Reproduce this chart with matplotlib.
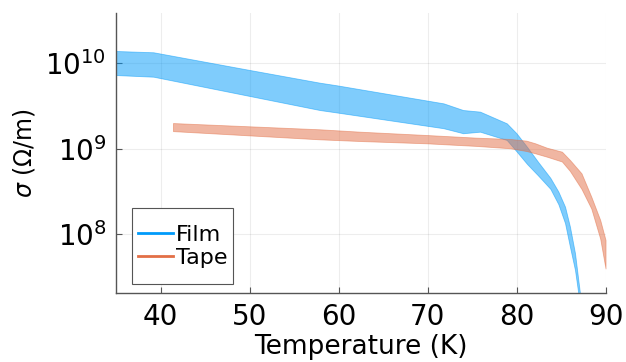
import matplotlib
matplotlib.use("Agg")
import matplotlib.pyplot as plt
from matplotlib.lines import Line2D
from matplotlib.patches import Rectangle

# Film band (temperature in K, sigma in Ohm/m)
film_T = [35, 39.2, 50, 57.9, 59.8, 71.8, 74.0, 75.9, 78.9, 80.0, 81.2, 82.4, 83.8,
          84.7, 85.45, 86.0, 86.57, 86.94, 87.13, 87.4]
film_upper = [1.393e10, 1.346e10, 8.36e9, 5.93e9, 5.53e9, 3.40e9, 2.84e9, 2.72e9, 1.987e9, 1.517e9,
              1.047e9, 7.08e8, 4.57e8, 3.16e8, 2.10e8, 1.23e8, 6.00e7, 2.92e7, 2.04e7, 7.9e6]
film_lower = [7.29e9, 6.97e9, 4.15e9, 2.84e9, 2.66e9, 1.74e9, 1.52e9, 1.585e9, 1.268e9, 9.33e8,
              6.61e8, 4.90e8, 3.40e8, 2.25e8, 1.35e8, 7.16e7, 3.82e7, 2.04e7, 1.26e7, 5.0e6]

# Tape band
tape_T = [41.4, 57.9, 62.4, 69.9, 75.5, 79.3, 81.1, 82.1, 83.4, 85.1, 86.0, 87.3, 88.4, 89.4, 90.0]
tape_upper = [2.00e9, 1.69e9, 1.585e9, 1.449e9, 1.349e9, 1.303e9, 1.245e9, 1.159e9, 1.03e9, 9.25e8,
              7.40e8, 5.16e8, 2.75e8, 1.47e8, 8.57e7]
tape_lower = [1.61e9, 1.29e9, 1.233e9, 1.159e9, 1.08e9, 1.014e9, 9.42e8, 8.85e8, 8.09e8, 7.10e8,
              5.50e8, 3.39e8, 2.00e8, 8.9e7, 3.98e7]

series_names = ["Film", "Tape"]
x_ticks = [40, 50, 60, 70, 80, 90]
y_ticks = [1e8, 1e9, 1e10]

blue = "#009AFA"
orange = "#E26F46"

fig = plt.figure(figsize=(6.26, 3.62), dpi=100)
ax = fig.add_axes([0.1853, 0.1906, 0.782, 0.7734])

ax.fill_between(film_T, film_lower, film_upper, color=blue, alpha=0.5, linewidth=0.6, zorder=2)
ax.fill_between(tape_T, tape_lower, tape_upper, color=orange, alpha=0.5, linewidth=0.6, zorder=3)

ax.set_yscale("log")
ax.set_xlim(35, 90)
ax.set_ylim(10**7.313, 10**10.588)
ax.set_xticks(x_ticks)
ax.set_yticks(y_ticks)
ax.yaxis.set_minor_locator(matplotlib.ticker.NullLocator())

ax.grid(True, color="black", alpha=0.07, linewidth=0.8)
ax.set_axisbelow(True)
for s in ["top", "right"]:
    ax.spines[s].set_visible(False)
for s in ["left", "bottom"]:
    ax.spines[s].set_color("#555555")
    ax.spines[s].set_linewidth(1.0)

ax.tick_params(axis="both", direction="in", length=4, width=0.8, color="#555555",
               labelsize=20, pad=7)

ax.set_xlabel("Temperature (K)", fontsize=19, labelpad=2.5)
ax.set_ylabel(r"$\sigma$ (Ω/m)", fontsize=17, labelpad=6)

# legend frame
x0, x1, y0, y1 = 0.0333, 0.2396, 0.031, 0.3025
ax.add_patch(Rectangle((x0, y0), x1 - x0, y1 - y0, transform=ax.transAxes,
                       facecolor="white", edgecolor="#555555", linewidth=0.8, zorder=5))
handles = [Line2D([0], [0], color=blue, lw=2), Line2D([0], [0], color=orange, lw=2)]
leg = ax.legend(handles, series_names, loc="center",
                bbox_to_anchor=((x0 + x1) / 2, (y0 + y1) / 2),
                borderaxespad=0, frameon=False, fontsize=16, handlelength=1.55,
                handletextpad=0.15, labelspacing=0.15, borderpad=0)
leg.set_zorder(6)

fig.savefig("out.png", dpi=100)
